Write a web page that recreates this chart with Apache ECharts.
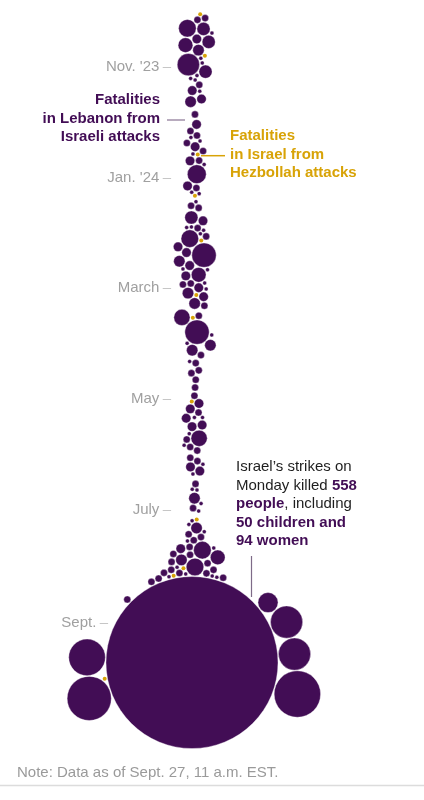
<!DOCTYPE html>
<html>
<head>
<meta charset="utf-8">
<title>Fatalities in Lebanon and Israel</title>
<script src="https://cdn.jsdelivr.net/npm/echarts@6.0.0/dist/echarts.min.js"></script>
<style>
html, body { margin: 0; padding: 0; background: #fff; }
#chart { width: 424px; height: 800px; }
</style>
</head>
<body>
<div id="chart"></div>
<script>
// fatalities in Lebanon from Israeli attacks, per month: [day, killed]
const lebOct23 = [[8,2],[9,2],[11,8],[13,3],[14,5],[15,1],[19,5],[20,6],[22,4],[25,1],[28,1],[30,12]];
const lebNov23 = [[2,5],[5,1],[7,1],[9,1],[11,2],[14,1],[16,3],[18,4],[19,3],[27,2]];
const lebDec23 = [[3,3],[6,2],[8,1],[9,2],[10,1],[14,2],[15,3],[16,2],[18,1],[23,3],[24,2],[25,1],[30,9]];
const lebJan24 = [[3,3],[6,1],[7,2],[8,1],[15,1],[16,2],[17,2],[23,5],[24,3],[28,1],[29,1],[30,2],[31,1]];
const lebFeb24 = [[2,1],[3,2],[6,3],[7,8],[11,3],[12,14],[14,4],[18,1],[19,3],[20,6],[21,1],[25,3],[26,2],[27,3],[28,1]];
const lebMar24 = [[1,1],[3,2],[4,4],[6,4],[7,3],[9,2],[17,2],[21,7],[25,14],[26,1],[28,4]];
const lebApr24 = [[2,1],[3,4],[6,2],[11,1],[12,2],[15,2],[17,2],[21,2],[24,2]];
const lebMay24 = [[1,2],[4,3],[7,3],[8,2],[11,1],[12,1],[14,3],[15,3],[16,3],[21,1],[22,7],[23,2],[25,1],[26,2],[29,2]];
const lebJun24 = [[3,2],[4,2],[5,1],[8,3],[9,3],[11,1],[17,2],[19,1],[21,1],[25,4],[26,1],[29,2]];
const lebJul24 = [[1,1],[8,1],[9,1],[12,4],[13,2],[14,1],[15,2],[19,1],[22,2],[24,6],[25,2],[26,3],[28,2],[30,2],[31,2]];
const lebAug24 = [[1,8],[2,1],[3,2],[4,4],[5,1],[6,8],[7,1],[8,2],[10,1],[12,2],[13,2],[14,2],[16,1],[18,2],[21,2],[24,1],[28,2]];
const lebSep24 = [[2,2],[8,2],[15,10],[16,23],[23,558],[24,45],[25,23],[26,29],[27,41]];

const lebanonMonths = [
  ['2023-10', lebOct23], ['2023-11', lebNov23], ['2023-12', lebDec23],
  ['2024-01', lebJan24], ['2024-02', lebFeb24], ['2024-03', lebMar24],
  ['2024-04', lebApr24], ['2024-05', lebMay24], ['2024-06', lebJun24],
  ['2024-07', lebJul24], ['2024-08', lebAug24], ['2024-09', lebSep24]
];

// fatalities in Israel from Hezbollah attacks
const israelDates = ['2023-10-09','2023-10-27','2023-12-19','2024-01-10','2024-02-10','2024-03-08',
  '2024-03-23','2024-05-03','2024-07-09','2024-08-05','2024-08-25','2024-09-26'];
const israelKilled = [1,1,1,1,1,1,1,1,1,1,1,1];

const tickDates = ['2023-11-01','2024-01-01','2024-03-01','2024-05-01','2024-07-01','2024-09-01'];
const tickLabels = ["Nov. '23", "Jan. '24", 'March', 'May', 'July', 'Sept.'];

const axisStart = '2023-10-01';
const axisEnd = '2024-10-01';

const purple = '#420d55';
const gold = '#d8a307';
const font = '"Liberation Sans", Arial, Helvetica, sans-serif';
const DAY = 86400000;

const ts = s => Date.parse(s + 'T00:00:00Z');
const pad = n => String(n).padStart(2, '0');

const lebanon = [];
lebanonMonths.forEach(([ym, days]) => {
  days.forEach(([d, v]) => lebanon.push([ts(ym + '-' + pad(d)), v]));
});
const israel = israelDates.map((d, i) => [ts(d), israelKilled[i]]);

const maxV = Math.max(...lebanon.map(d => d[1]));
// sqrt scale: 1 killed -> 2px radius, max -> 86px radius
function radius(v) {
  return 2 + (Math.sqrt(v) - 1) * (86 - 2) / (Math.sqrt(maxV) - 1);
}

const tickTs = tickDates.map(ts);
function tickLabel(val) {
  const i = tickTs.indexOf(val);
  if (i < 0) return '';
  // the Sept. label sits left of the big bubble
  return i === tickTs.length - 1
    ? '{t|' + tickLabels[i] + '} {far|\u2013}'
    : '{t|' + tickLabels[i] + '} {d|\u2013}';
}

const chart = echarts.init(document.getElementById('chart'));

chart.setOption({
  animation: false,
  backgroundColor: '#fff',
  grid: { left: 171, right: 0, top: 10.5, bottom: 122.3, outerBoundsMode: 'none' },
  xAxis: { type: 'value', min: -24, max: 229, show: false },
  yAxis: {
    type: 'value',
    inverse: true,
    min: ts(axisStart),
    max: ts(axisEnd),
    axisLine: { show: false },
    axisTick: { show: false },
    splitLine: { show: false },
    axisLabel: {
      customValues: tickTs,
      formatter: tickLabel,
      margin: 0,
      rich: {
        t: { color: '#a0a0a0', fontSize: 15, fontFamily: font },
        d: { color: '#c6c6c6', fontSize: 15, fontFamily: font },
        far: { color: '#c6c6c6', fontSize: 15, fontFamily: font, padding: [0, 63, 0, 0] }
      }
    }
  },
  series: [
    { type: 'scatter', data: [] },
    { type: 'scatter', data: [] }
  ]
});

// beeswarm: pull each bubble to its date, keep bubbles from overlapping
const cx = chart.convertToPixel({ xAxisIndex: 0 }, 0);
const nodes = [];
lebanon.forEach(d => nodes.push({ s: 0, t: d[0], v: d[1], r: radius(d[1]) }));
israel.forEach(d => nodes.push({ s: 1, t: d[0], v: d[1], r: radius(d[1]) }));
nodes.forEach(n => {
  const day = Math.round(n.t / DAY);
  n.ty = chart.convertToPixel({ yAxisIndex: 0 }, n.t);
  n.x = cx + (((day + 6) % 9) - 4) * 5 + n.s * 0.5;
  n.y = n.ty;
  n.vx = 0; n.vy = 0;
});

function collide(strength) {
  for (let i = 0; i < nodes.length; i++) {
    const a = nodes[i];
    const ri2 = a.r * a.r;
    const xi = a.x + a.vx, yi = a.y + a.vy;
    for (let j = i + 1; j < nodes.length; j++) {
      const b = nodes[j];
      const rr = a.r + b.r + 0.8;
      let dx = xi - b.x - b.vx, dy = yi - b.y - b.vy;
      let l = dx * dx + dy * dy;
      if (l < rr * rr) {
        if (dx === 0) dx = 1e-3 * (i % 2 ? 1 : -1);
        l = Math.sqrt(dx * dx + dy * dy);
        l = (rr - l) / l * strength;
        const rj2 = b.r * b.r;
        const w = rj2 / (ri2 + rj2);
        dx *= l; dy *= l;
        a.vx += dx * w; a.vy += dy * w;
        b.vx -= dx * (1 - w); b.vy -= dy * (1 - w);
      }
    }
  }
}

let alpha = 1;
const alphaDecay = 1 - Math.pow(0.001, 1 / 300);
for (let k = 0; k < 300; k++) {
  alpha += -alpha * alphaDecay;
  nodes.forEach(n => {
    n.vx += (cx - n.x) * 0.08 * alpha;
    n.vy += (n.ty - n.y) * 0.14 * alpha;
  });
  collide(1);
  collide(1);
  nodes.forEach(n => {
    n.vx *= 0.6; n.vy *= 0.6;
    n.x += n.vx; n.y += n.vy;
  });
}
// final clean-up of leftover overlaps
for (let k = 0; k < 40; k++) {
  nodes.forEach(n => { n.vx = 0; n.vy = 0; });
  collide(0.5);
  nodes.forEach(n => { n.x += n.vx; n.y += n.vy; });
}

function seriesData(s) {
  return nodes.filter(n => n.s === s).map(n => [
    chart.convertFromPixel({ xAxisIndex: 0 }, n.x),
    chart.convertFromPixel({ yAxisIndex: 0 }, n.y),
    n.v
  ]);
}

const bubbleBase = {
  type: 'scatter',
  clip: false,
  symbol: 'circle',
  symbolSize: val => 2 * radius(val[2]),
  emphasis: { disabled: true },
  silent: true
};

chart.setOption({
  series: [
    Object.assign({}, bubbleBase, {
      name: 'Lebanon',
      data: seriesData(0),
      itemStyle: { color: purple, opacity: 1, borderColor: 'rgba(255,255,255,0.7)', borderWidth: 0.5 }
    }),
    Object.assign({}, bubbleBase, {
      name: 'Israel',
      data: seriesData(1),
      z: 3,
      itemStyle: { color: gold, opacity: 1 }
    })
  ],
  graphic: [
    {
      type: 'text', silent: true,
      style: {
        x: 160, y: 91, align: 'right', verticalAlign: 'top',
        text: 'Fatalities\nin Lebanon from\nIsraeli attacks',
        fontSize: 15, fontWeight: 'bold', fontFamily: font, lineHeight: 18.3, fill: purple
      }
    },
    { type: 'line', silent: true, shape: { x1: 167, y1: 120, x2: 185, y2: 120 }, style: { stroke: '#a18fa9', lineWidth: 1.5 } },
    {
      type: 'text', silent: true,
      style: {
        x: 230, y: 127, align: 'left', verticalAlign: 'top',
        text: 'Fatalities\nin Israel from\nHezbollah attacks',
        fontSize: 15, fontWeight: 'bold', fontFamily: font, lineHeight: 18.3, fill: gold
      }
    },
    { type: 'line', silent: true, shape: { x1: 201, y1: 155.7, x2: 225, y2: 155.7 }, style: { stroke: gold, lineWidth: 1.5 } },
    {
      type: 'text', silent: true,
      style: {
        x: 236, y: 458, align: 'left', verticalAlign: 'top',
        text: 'Israel\u2019s strikes on\nMonday killed {b|558}\n{b|people}, including\n{b|50 children and}\n{b|94 women}',
        fontSize: 15, fontFamily: font, lineHeight: 18.5, fill: '#1e1e1e',
        rich: { b: { fontSize: 15, fontWeight: 'bold', fontFamily: font, lineHeight: 18.5, fill: purple } }
      }
    },
    { type: 'line', silent: true, shape: { x1: 251.5, y1: 556, x2: 251.5, y2: 597 }, style: { stroke: '#7e6b88', lineWidth: 1.2 } },
    {
      type: 'text', silent: true,
      style: {
        x: 17, y: 773, align: 'left', verticalAlign: 'middle',
        text: 'Note: Data as of Sept. 27, 11 a.m. EST.',
        fontSize: 15, fontFamily: font, fill: '#9a9a9a'
      }
    },
    { type: 'line', silent: true, shape: { x1: 0, y1: 785.5, x2: 424, y2: 785.5 }, style: { stroke: '#dcdcdc', lineWidth: 1.5 } }
  ]
});
</script>
</body>
</html>
